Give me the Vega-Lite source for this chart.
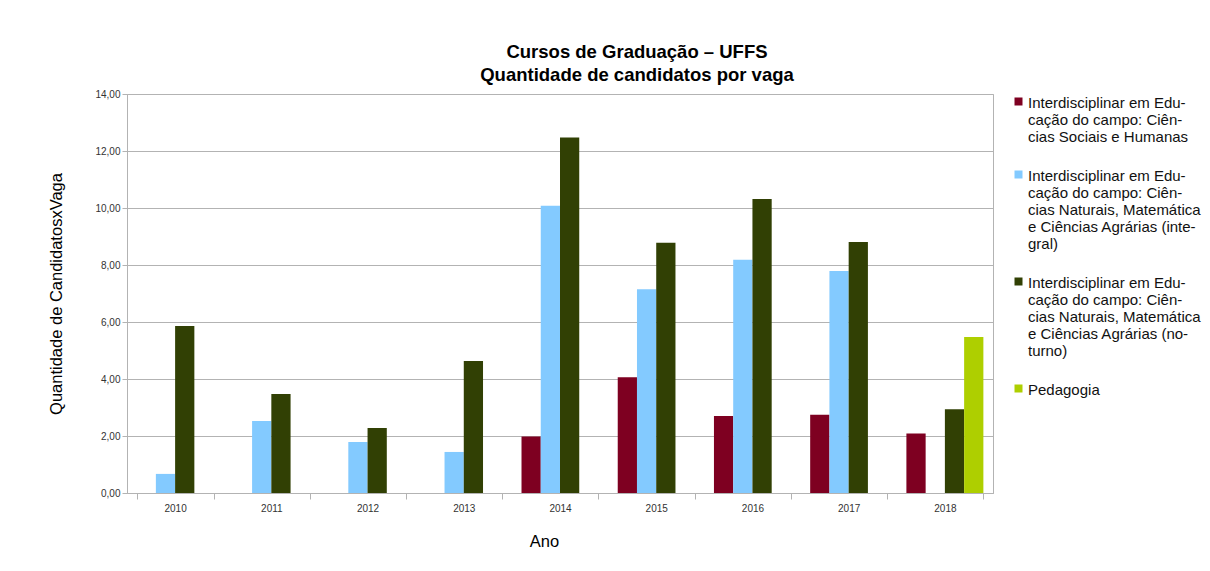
{
  "$schema": "https://vega.github.io/schema/vega-lite/v6.json",
  "width": 866,
  "height": 399,
  "autosize": {"type": "none"},
  "padding": {"left": 127, "top": 94, "right": 217, "bottom": 78},
  "background": "white",
  "title": {
    "text": ["Cursos de Graduação – UFFS", "Quantidade de candidatos por vaga"],
    "font": "Liberation Sans",
    "fontSize": 18.5,
    "fontWeight": "bold",
    "color": "black",
    "anchor": "middle",
    "dx": 77,
    "offset": 5,
    "lineHeight": 23
  },
  "data": {
    "values": [
      {"ano": "2010", "curso": "Interdisciplinar em Educação do campo: Ciências Naturais, Matemática e Ciências Agrárias (integral)", "valor": 0.67},
      {"ano": "2010", "curso": "Interdisciplinar em Educação do campo: Ciências Naturais, Matemática e Ciências Agrárias (noturno)", "valor": 5.86},
      {"ano": "2011", "curso": "Interdisciplinar em Educação do campo: Ciências Naturais, Matemática e Ciências Agrárias (integral)", "valor": 2.53},
      {"ano": "2011", "curso": "Interdisciplinar em Educação do campo: Ciências Naturais, Matemática e Ciências Agrárias (noturno)", "valor": 3.47},
      {"ano": "2012", "curso": "Interdisciplinar em Educação do campo: Ciências Naturais, Matemática e Ciências Agrárias (integral)", "valor": 1.79},
      {"ano": "2012", "curso": "Interdisciplinar em Educação do campo: Ciências Naturais, Matemática e Ciências Agrárias (noturno)", "valor": 2.28},
      {"ano": "2013", "curso": "Interdisciplinar em Educação do campo: Ciências Naturais, Matemática e Ciências Agrárias (integral)", "valor": 1.44},
      {"ano": "2013", "curso": "Interdisciplinar em Educação do campo: Ciências Naturais, Matemática e Ciências Agrárias (noturno)", "valor": 4.63},
      {"ano": "2014", "curso": "Interdisciplinar em Educação do campo: Ciências Sociais e Humanas", "valor": 1.98},
      {"ano": "2014", "curso": "Interdisciplinar em Educação do campo: Ciências Naturais, Matemática e Ciências Agrárias (integral)", "valor": 10.08},
      {"ano": "2014", "curso": "Interdisciplinar em Educação do campo: Ciências Naturais, Matemática e Ciências Agrárias (noturno)", "valor": 12.47},
      {"ano": "2015", "curso": "Interdisciplinar em Educação do campo: Ciências Sociais e Humanas", "valor": 4.06},
      {"ano": "2015", "curso": "Interdisciplinar em Educação do campo: Ciências Naturais, Matemática e Ciências Agrárias (integral)", "valor": 7.15},
      {"ano": "2015", "curso": "Interdisciplinar em Educação do campo: Ciências Naturais, Matemática e Ciências Agrárias (noturno)", "valor": 8.78},
      {"ano": "2016", "curso": "Interdisciplinar em Educação do campo: Ciências Sociais e Humanas", "valor": 2.70},
      {"ano": "2016", "curso": "Interdisciplinar em Educação do campo: Ciências Naturais, Matemática e Ciências Agrárias (integral)", "valor": 8.18},
      {"ano": "2016", "curso": "Interdisciplinar em Educação do campo: Ciências Naturais, Matemática e Ciências Agrárias (noturno)", "valor": 10.32},
      {"ano": "2017", "curso": "Interdisciplinar em Educação do campo: Ciências Sociais e Humanas", "valor": 2.75},
      {"ano": "2017", "curso": "Interdisciplinar em Educação do campo: Ciências Naturais, Matemática e Ciências Agrárias (integral)", "valor": 7.79},
      {"ano": "2017", "curso": "Interdisciplinar em Educação do campo: Ciências Naturais, Matemática e Ciências Agrárias (noturno)", "valor": 8.81},
      {"ano": "2018", "curso": "Interdisciplinar em Educação do campo: Ciências Sociais e Humanas", "valor": 2.09},
      {"ano": "2018", "curso": "Interdisciplinar em Educação do campo: Ciências Naturais, Matemática e Ciências Agrárias (noturno)", "valor": 2.94},
      {"ano": "2018", "curso": "Pedagogia", "valor": 5.47}
    ]
  },
  "mark": {"type": "bar"},
  "encoding": {
    "x": {
      "field": "ano",
      "type": "nominal",
      "scale": {"paddingInner": 0.2, "paddingOuter": 0.1},
      "axis": {
        "title": "Ano",
        "titleFont": "Liberation Sans",
        "titleFontSize": 16.5,
        "titleFontWeight": "normal",
        "titleColor": "black",
        "titlePadding": 20,
        "titleX": 417,
        "labelAngle": 0,
        "labelFont": "Liberation Sans",
        "labelFontSize": 10,
        "labelColor": "#333333",
        "labelPadding": 4,
        "tickBand": "extent",
        "tickSize": 6,
        "tickColor": "#b3b3b3",
        "domainColor": "#b3b3b3",
        "grid": false
      }
    },
    "xOffset": {
      "field": "curso",
      "type": "nominal",
      "scale": {
        "domain": [
          "Interdisciplinar em Educação do campo: Ciências Sociais e Humanas",
          "Interdisciplinar em Educação do campo: Ciências Naturais, Matemática e Ciências Agrárias (integral)",
          "Interdisciplinar em Educação do campo: Ciências Naturais, Matemática e Ciências Agrárias (noturno)",
          "Pedagogia"
        ],
        "paddingInner": 0,
        "paddingOuter": 0
      }
    },
    "y": {
      "field": "valor",
      "type": "quantitative",
      "scale": {"domain": [0, 14], "nice": false},
      "axis": {
        "title": "Quantidade de CandidatosxVaga",
        "titleFont": "Liberation Sans",
        "titleFontSize": 16.5,
        "titleFontWeight": "normal",
        "titleColor": "black",
        "titlePadding": 30,
        "values": [0, 2, 4, 6, 8, 10, 12, 14],
        "labelExpr": "replace(format(datum.value, '.2f'), '.', ',')",
        "labelFont": "Liberation Sans",
        "labelFontSize": 10,
        "labelColor": "#333333",
        "labelPadding": 2,
        "tickSize": 5,
        "tickColor": "#b3b3b3",
        "domainColor": "#b3b3b3",
        "gridColor": "#b3b3b3",
        "gridWidth": 1
      }
    },
    "color": {
      "field": "curso",
      "type": "nominal",
      "scale": {
        "domain": [
          "Interdisciplinar em Educação do campo: Ciências Sociais e Humanas",
          "Interdisciplinar em Educação do campo: Ciências Naturais, Matemática e Ciências Agrárias (integral)",
          "Interdisciplinar em Educação do campo: Ciências Naturais, Matemática e Ciências Agrárias (noturno)",
          "Pedagogia"
        ],
        "range": ["#7e0021", "#83caff", "#314004", "#aecf00"]
      },
      "legend": {
        "title": null,
        "orient": "right",
        "offset": 18,
        "symbolType": "square",
        "symbolSize": 64,
        "symbolStrokeWidth": 0,
        "labelFont": "Liberation Sans",
        "labelFontSize": 15,
        "labelColor": "#111111",
        "labelLimit": 300,
        "labelOffset": 2,
        "labelBaseline": "top",
        "rowPadding": 22,
        "encode": {"labels": {"update": {"dy": {"value": -6}}}},
        "labelExpr": "indexof(datum.value, 'Humanas') >= 0 ? ['Interdisciplinar em Edu-', 'cação do campo: Ciên-', 'cias Sociais e Humanas'] : indexof(datum.value, '(integral)') >= 0 ? ['Interdisciplinar em Edu-', 'cação do campo: Ciên-', 'cias Naturais, Matemática', 'e Ciências Agrárias (inte-', 'gral)'] : indexof(datum.value, '(noturno)') >= 0 ? ['Interdisciplinar em Edu-', 'cação do campo: Ciên-', 'cias Naturais, Matemática', 'e Ciências Agrárias (no-', 'turno)'] : datum.value"
      }
    }
  },
  "config": {
    "view": {"stroke": "#b3b3b3"}
  }
}
